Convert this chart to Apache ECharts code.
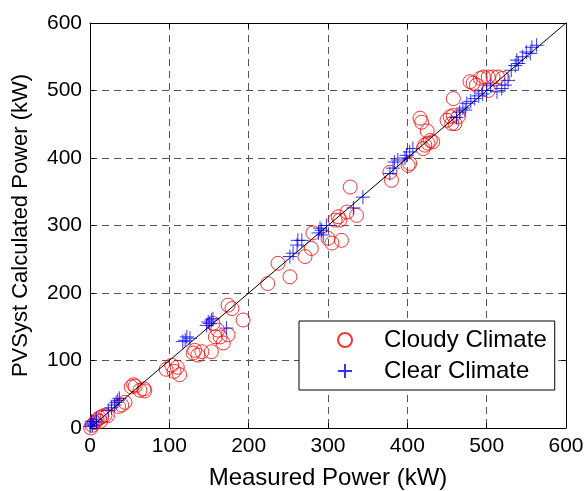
<!DOCTYPE html>
<html><head><meta charset="utf-8">
<script src="https://cdn.jsdelivr.net/npm/echarts@6/dist/echarts.min.js"></script>
<style>html,body{margin:0;padding:0;background:#fff}#c{width:588px;height:491px}</style>
</head><body><div id="c"></div>
<script>
var xTicks = [0,100,200,300,400,500,600];
var yTicks = [0,100,200,300,400,500,600];

var cloudyMeasured = [1,3,6,9,12,15,19,22,13,36,40,44,52,55,57,63,69,68,96,103,106,110,113,130,132,136,141,153,155,158,161,164,168,174,174,179,193,224,237,252,271,279,281,300,305,317,309,313,315,324,336,328,378,380,401,403,416,418,420,422,425,426,429,432,450,454,456,458,460,458,464,479,483,487,492,496,502,502,508,514,520];
var cloudyCalculated = [0,4,8,12,15,17,19,18,10,32,34,38,61,64,62,56,55,58,87,93,84,90,79,111,115,108,113,113,155,135,145,135,126,138,182,177,160,214,244,224,254,266,289,281,274,278,308,313,308,320,315,357,379,367,389,392,459,453,414,419,440,422,426,424,456,461,451,488,451,463,461,513,511,508,518,520,520,500,520,520,518];

var clearMeasured = [0,1,3,5,8,8,2,23,27,31,35,37,33,117,120,122,126,147,149,151,153,172,155,252,256,261,262,267,288,290,292,294,298,332,344,378,382,384,388,399,403,407,397,462,466,470,473,475,480,485,490,495,500,505,513,519,523,527,531,536,538,540,545,550,557,563,555];
var clearCalculated = [2,6,4,9,9,13,10,26,30,34,41,44,38,128,130,135,133,152,157,155,160,148,162,254,259,271,278,278,289,296,293,286,300,326,342,377,385,394,397,404,409,414,400,460,468,474,471,481,484,488,492,495,500,507,498,503,508,515,530,537,545,540,550,557,564,567,555];

var lineX = [0,600];
var lineY = [0,600];

function pairs(a,b){return a.map(function(v,i){return [v,b[i]];});}

var FONT = 'Liberation Sans, Arial, sans-serif';
var chart = echarts.init(document.getElementById('c'), null, {renderer:'canvas'});
var dashed = {show:true, lineStyle:{color:'#555', type:[7,5], width:1}};
chart.setOption({
  animation:false,
  backgroundColor:'#fff',
  grid:{left:90,right:22,top:23,bottom:63,containLabel:false,outerBoundsMode:'none'},
  xAxis:[{
    type:'value', min:xTicks[0], max:xTicks[xTicks.length-1], interval:100,
    name:'Measured Power (kW)', nameLocation:'middle', nameGap:38,
    nameTextStyle:{fontFamily:FONT,fontSize:24,color:'#000'},
    axisLine:{show:true,onZero:false,lineStyle:{color:'#000',width:1}},
    axisTick:{show:true,inside:true,length:5,lineStyle:{color:'#000'}},
    axisLabel:{fontFamily:FONT,fontSize:21,color:'#000',margin:8},
    splitLine:dashed
  },{
    type:'value', position:'top', min:0, max:600, interval:100,
    axisLine:{show:true,onZero:false,lineStyle:{color:'#000',width:1}},
    axisTick:{show:true,inside:true,length:5,lineStyle:{color:'#000'}},
    axisLabel:{show:false}, splitLine:{show:false}
  }],
  yAxis:[{
    type:'value', min:yTicks[0], max:yTicks[yTicks.length-1], interval:100,
    name:'PVSyst Calculated Power (kW)', nameLocation:'middle', nameGap:58,
    nameTextStyle:{fontFamily:FONT,fontSize:22,color:'#000'},
    axisLine:{show:true,onZero:false,lineStyle:{color:'#000',width:1}},
    axisTick:{show:true,inside:true,length:5,lineStyle:{color:'#000'}},
    axisLabel:{fontFamily:FONT,fontSize:21,color:'#000',margin:8},
    splitLine:dashed
  },{
    type:'value', position:'right', min:0, max:600, interval:100,
    axisLine:{show:true,onZero:false,lineStyle:{color:'#000',width:1}},
    axisTick:{show:true,inside:true,length:5,lineStyle:{color:'#000'}},
    axisLabel:{show:false}, splitLine:{show:false}
  }],
  legend:{
    orient:'vertical', left:299, top:321,
    padding:[7,8,7,38], itemGap:7, itemWidth:14, itemHeight:14,
    borderColor:'#000', borderWidth:1, backgroundColor:'#fff', borderRadius:0,
    textStyle:{fontFamily:FONT,fontSize:24,color:'#000',padding:[0,0,0,27],lineHeight:24},
    data:['Cloudy Climate','Clear Climate']
  },
  series:[{
    name:'Cloudy Climate', type:'scatter', data:pairs(cloudyMeasured,cloudyCalculated),
    symbol:'circle', symbolSize:14,
    itemStyle:{color:'rgba(0,0,0,0)',borderColor:'#ff0000',borderWidth:1}
  },{
    name:'Clear Climate', type:'scatter', data:pairs(clearMeasured,clearCalculated),
    symbol:'path://M7,0L7,14M0,7L14,7', symbolSize:14,
    itemStyle:{color:'rgba(0,0,0,0)',borderColor:'#0000ff',borderWidth:1}
  },{
    name:'fit', type:'line', data:pairs(lineX,lineY), symbol:'none',
    lineStyle:{color:'#000',width:1}, z:5
  }]
});
</script></body></html>
